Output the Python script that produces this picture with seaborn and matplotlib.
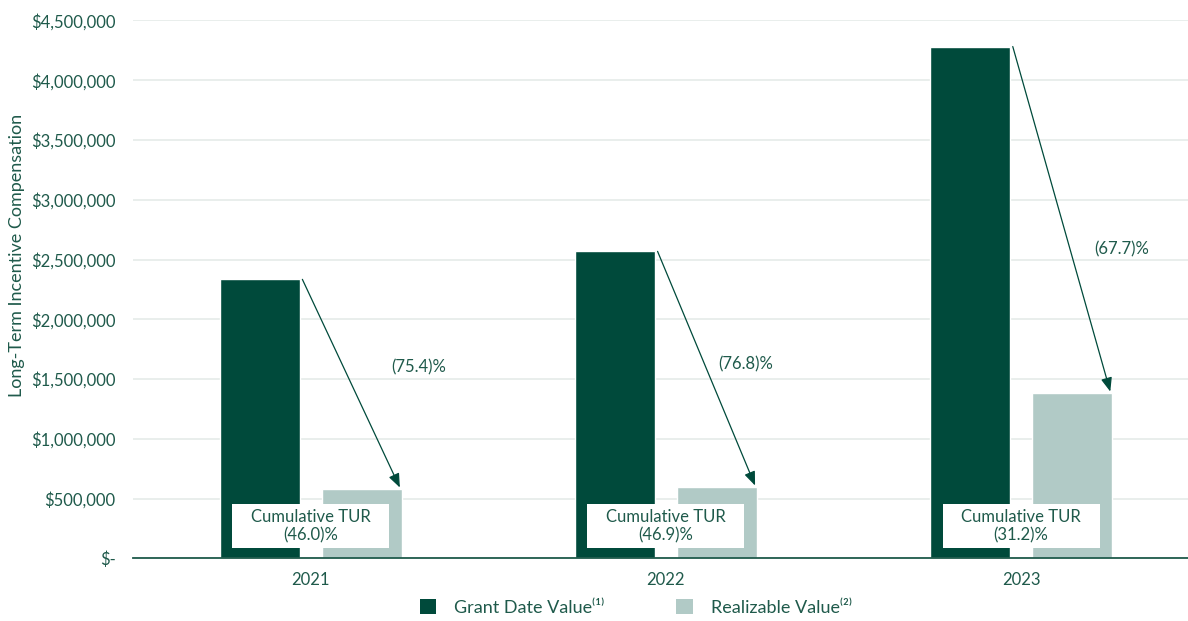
import matplotlib
matplotlib.use("Agg")
import matplotlib.pyplot as plt
import seaborn as sns
import pandas as pd
from matplotlib.patches import Patch, Rectangle

years = ["2021", "2022", "2023"]
grant_values = [2334000, 2568000, 4282000]
realizable_values = [577000, 594000, 1380000]
drop_labels = ["(75.4)%", "(76.8)%", "(67.7)%"]
tur_labels = ["Cumulative TUR\n(46.0)%", "Cumulative TUR\n(46.9)%", "Cumulative TUR\n(31.2)%"]
series_names = ["Grant Date Value", "Realizable Value"]
legend_labels = ["Grant Date Value⁽¹⁾", "Realizable Value⁽²⁾"]
ytick_values = [0, 500000, 1000000, 1500000, 2000000, 2500000, 3000000, 3500000, 4000000, 4500000]

DARK = "#004a3b"
LIGHT = "#b1cac6"
TEXT = "#1f5a4b"
GRID = "#e5ebe9"

df = pd.DataFrame({
    "Year": years * 2,
    "Series": [series_names[0]] * 3 + [series_names[1]] * 3,
    "Value": grant_values + realizable_values,
})

sns.set_theme(style="white")
plt.rcParams["font.family"] = ["Lato", "DejaVu Sans"]

fig = plt.figure(figsize=(11.88, 6.21), dpi=100)
ax = fig.add_axes([0.112, 0.101, 0.888, 0.866])

sns.barplot(data=df, x="Year", y="Value", hue="Series", order=years,
            hue_order=series_names, palette=[DARK, LIGHT], saturation=1,
            width=0.575, gap=0.218, ax=ax, legend=False, zorder=3)

ax.set_ylim(0, 4500000)
ax.set_xlim(-0.5, 2.47)
ax.set_yticks(ytick_values)
ax.set_yticklabels(["$-" if v == 0 else f"${v:,.0f}" for v in ytick_values])
ax.yaxis.grid(True, color=GRID, linewidth=1.2, zorder=0)
ax.set_axisbelow(True)
for s in ["top", "right", "left"]:
    ax.spines[s].set_visible(False)
ax.spines["bottom"].set_color(TEXT)
ax.spines["bottom"].set_linewidth(1.3)
ax.spines["bottom"].set_zorder(5)
ax.tick_params(axis="both", length=0, labelcolor=TEXT, labelsize=12)
ax.tick_params(axis="y", pad=12.5)
ax.tick_params(axis="x", pad=10)
ax.set_xlabel("")
ax.set_ylabel("Long-Term Incentive Compensation", color=TEXT, fontsize=13)
ax.yaxis.set_label_coords(-0.1025, 0.563)

bars = [p for p in ax.patches if p.get_height() > 0]
grant_bars = sorted(bars[:3], key=lambda p: p.get_x())
real_bars = sorted(bars[3:], key=lambda p: p.get_x())

label_pos = [(0.304, 1.60e6), (0.225, 1.62e6), (0.282, 2.585e6)]
box_w = 0.442
box_h = 368000
box_bottom = 83600
for i in range(3):
    g = grant_bars[i]
    r = real_bars[i]
    x0 = g.get_x() + g.get_width() + 0.008
    y0 = g.get_height()
    x1 = r.get_x() + r.get_width() - 0.005
    y1 = r.get_height() + 15000
    ax.annotate("", xy=(x1, y1), xytext=(x0, y0),
                arrowprops=dict(arrowstyle="-|>,head_length=0.7,head_width=0.28",
                                color=DARK, lw=0.9, shrinkA=0, shrinkB=0), zorder=6)
    ax.text(i + label_pos[i][0], label_pos[i][1], drop_labels[i], color=TEXT,
            fontsize=12, ha="center", va="center", zorder=7)
    ax.add_patch(Rectangle((i - box_w / 2, box_bottom), box_w, box_h,
                           facecolor="white", edgecolor="none", zorder=7))
    ax.text(i, box_bottom + box_h / 2, tur_labels[i], color=TEXT, fontsize=12,
            ha="center", va="center", linespacing=1.15, zorder=8)

handles = [Patch(facecolor=DARK, edgecolor="none"), Patch(facecolor=LIGHT, edgecolor="none")]
fig.legend(handles, legend_labels, loc="lower center", bbox_to_anchor=(0.535, -0.018),
           ncol=2, frameon=False, fontsize=13, labelcolor=TEXT, handlelength=0.9,
           handleheight=0.9, columnspacing=4.0, handletextpad=1.0)

fig.savefig("out.png", dpi=100)
